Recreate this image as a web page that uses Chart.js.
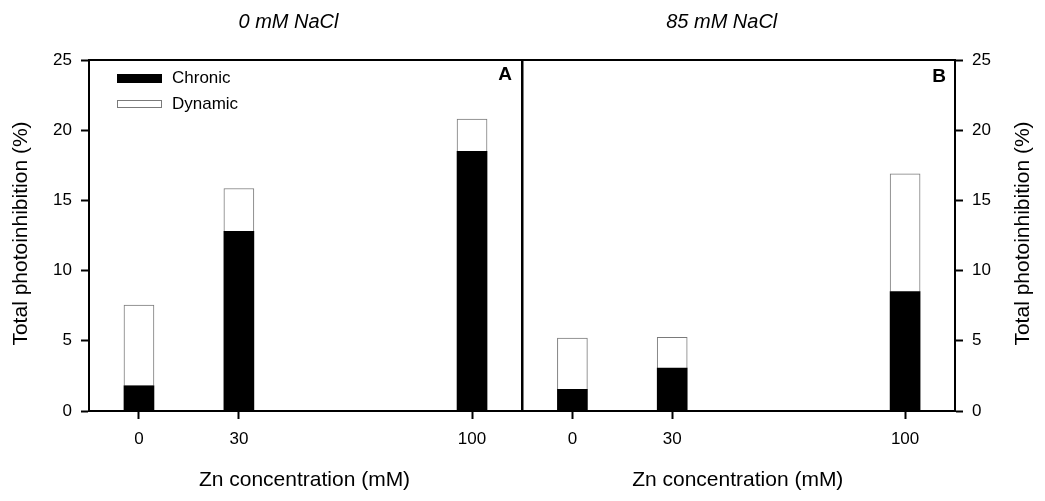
<!DOCTYPE html>
<html>
<head>
<meta charset="utf-8">
<script src="https://cdn.jsdelivr.net/npm/chart.js@4.4.0/dist/chart.umd.min.js"></script>
<style>
  body { margin: 0; background: #fff; }
  #wrap { position: relative; width: 1045px; height: 501px; background: #fff; }
  .panel { position: absolute; top: 0; width: 530px; height: 501px; }
  #left { left: 0; }
  #right { left: 515px; }
</style>
</head>
<body>
<div id="wrap">
  <div class="panel" id="left"><canvas id="chartA"></canvas></div>
  <div class="panel" id="right"><canvas id="chartB"></canvas></div>
</div>
<script>
// Zn concentration (mM) - x positions of the bars
const znLevels = [0, 30, 100];

// panel A: 0 mM NaCl
const chronicA = [1.8, 12.8, 18.5];
const dynamicA = [5.75, 3.05, 2.3];

// panel B: 85 mM NaCl
const chronicB = [1.55, 3.05, 8.5];
const dynamicB = [3.65, 2.2, 8.4];

const yMax = 25;
const yStep = 5;

const FONT = "'Liberation Sans', Arial, sans-serif";
const xTitle = 'Zn concentration (mM)';
const yTitle = 'Total photoinhibition (%)';

const deco = {
    id: 'deco',
    afterDraw(chart, args, o)
    {
        const ctx = chart.ctx;
        const a = chart.chartArea;
        ctx.save();

        // box round the plot
        ctx.strokeStyle = '#000';
        ctx.lineWidth = 2;
        ctx.strokeRect(a.left, a.top, a.right - a.left, a.bottom - a.top);

        ctx.fillStyle = '#000';
        ctx.textAlign = 'center';
        ctx.textBaseline = 'middle';

        ctx.font = 'italic 20px ' + FONT;
        ctx.fillText(o.title, (a.left + a.right) / 2 - 17, 22);

        ctx.font = '21px ' + FONT;
        ctx.fillText(xTitle, (a.left + a.right) / 2 - 1, 480);

        ctx.font = 'bold 19px ' + FONT;
        ctx.fillText(o.letter, o.letterX, o.letterY);

        ctx.save();
        ctx.translate(o.yTitleX, (a.top + a.bottom) / 2 - 2);
        ctx.rotate(-Math.PI / 2);
        ctx.font = '21px ' + FONT;
        ctx.fillText(yTitle, 0, 0);
        ctx.restore();

        if (o.legend)
        {
            const ds = chart.data.datasets;
            const rows = [[74, 9, 78.5], [100, 8, 104]];
            ctx.font = '17px ' + FONT;
            ctx.textAlign = 'left';
            for (let i = 0; i < ds.length; i++)
            {
                const r = rows[i];
                ctx.fillStyle = ds[i].backgroundColor;
                ctx.fillRect(117, r[0], 45, r[1]);
                if (ds[i].borderWidth > 0)
                {
                    ctx.strokeStyle = ds[i].borderColor;
                    ctx.lineWidth = 1;
                    ctx.strokeRect(117.5, r[0] + 0.5, 44, r[1] - 1);
                }
                ctx.fillStyle = '#000';
                ctx.fillText(ds[i].label, 172, r[2]);
            }
        }
        ctx.restore();
    }
};

function makePanel(id, chronic, dynamic, o)
{
    const ctx = document.getElementById(id).getContext('2d');

    const config = {
        type: 'bar',
        data: {
            datasets: [
                {
                    label: 'Chronic',
                    data: znLevels.map((z, i) => ({x: z, y: chronic[i]})),
                    backgroundColor: '#000',
                    borderWidth: 0,
                    barThickness: 30
                },
                {
                    label: 'Dynamic',
                    data: znLevels.map((z, i) => ({x: z, y: dynamic[i]})),
                    backgroundColor: '#fff',
                    borderColor: '#7a7a7a',
                    borderWidth: 1,
                    barThickness: 30
                }
            ]
        },
        options: {
            responsive: false,
            animation: false,
            layout: { padding: o.padding },
            plugins: {
                legend: { display: false },
                tooltip: { enabled: false },
                deco: o.deco
            },
            scales: {
                x: {
                    type: 'linear',
                    stacked: true,
                    offset: false,
                    min: -15,
                    max: 115,
                    afterBuildTicks: s => { s.ticks = znLevels.map(v => ({value: v})); },
                    afterFit: s => { s.height = 90; },
                    grid: { offset: false, drawOnChartArea: false, drawTicks: true, tickLength: 8, tickWidth: 2, tickColor: '#000' },
                    border: { display: true, color: '#000', width: 2 },
                    ticks: { color: '#000', padding: 10, font: { family: FONT, size: 17 } }
                },
                y: {
                    position: o.side,
                    stacked: true,
                    min: 0,
                    max: yMax,
                    afterFit: s => { s.width = o.yWidth; },
                    grid: { drawOnChartArea: false, drawTicks: true, tickLength: 8, tickWidth: 2, tickColor: '#000' },
                    border: { display: true, color: '#000', width: 2 },
                    ticks: { stepSize: yStep, color: '#000', padding: 9, font: { family: FONT, size: 17 } }
                }
            }
        },
        plugins: [deco]
    };

    return new Chart(ctx, config);
}

function sizeCanvas(id)
{
    const c = document.getElementById(id);
    c.width = 530;
    c.height = 501;
    c.style.width = '530px';
    c.style.height = '501px';
}
sizeCanvas('chartA');
sizeCanvas('chartB');

makePanel('chartA', chronicA, dynamicA, {
    side: 'left',
    yWidth: 89,
    padding: { top: 60, right: 8, left: 0, bottom: 0 },
    deco: { title: '0 mM NaCl', letter: 'A', letterX: 505, letterY: 74.5, yTitleX: 21.5, legend: true }
});

makePanel('chartB', chronicB, dynamicB, {
    side: 'right',
    yWidth: 90,
    padding: { top: 60, right: 0, left: 7.5, bottom: 0 },
    deco: { title: '85 mM NaCl', letter: 'B', letterX: 424, letterY: 76.5, yTitleX: 508.5, legend: false }
});
</script>
</body>
</html>
